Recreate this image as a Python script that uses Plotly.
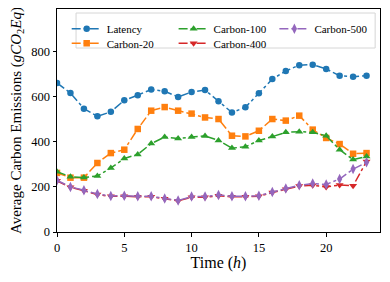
import plotly.graph_objects as go

hours = list(range(24))
latency = [661, 616, 547, 513, 533, 584, 607, 632, 624, 599, 621, 630, 580, 530, 553, 615, 678, 714, 740, 742, 723, 693, 689, 693]
carbon20 = [262, 241, 241, 306, 350, 365, 457, 538, 554, 538, 525, 508, 501, 427, 424, 449, 501, 494, 516, 454, 417, 390, 347, 350]
carbon100 = [267, 245, 242, 248, 284, 326, 344, 392, 421, 415, 421, 426, 406, 372, 378, 406, 423, 442, 445, 442, 427, 365, 321, 335]
carbon400 = [227, 198, 183, 166, 158, 159, 156, 156, 147, 138, 154, 154, 161, 156, 156, 159, 175, 190, 204, 207, 200, 208, 205, 313]
carbon500 = [229, 200, 185, 168, 160, 161, 158, 158, 149, 140, 157, 157, 164, 158, 158, 161, 177, 193, 207, 215, 211, 235, 279, 309]

names = ["Latency", "Carbon-20", "Carbon-100", "Carbon-400", "Carbon-500"]
series = [latency, carbon20, carbon100, carbon400, carbon500]
colors = ["#1f77b4", "#ff7f0e", "#2ca02c", "#d62728", "#9467bd"]
symbols = ["circle", "square", "triangle-up", "triangle-down", "diamond-tall"]
sizes = [6.5, 6.5, 7, 7, 7.5]
legend_ids = ["legend", "legend2", "legend3", "legend4", "legend5"]
# legend cell (column x, row y) for each series, matplotlib ncol=3 column-major layout
leg_x = [0.030, 0.030, 0.361, 0.361, 0.673]
leg_y = [0.977, 0.911, 0.977, 0.911, 0.977]

fig = go.Figure()
for n, s, c, m, sz, lg in zip(names, series, colors, symbols, sizes, legend_ids):
    fig.add_trace(go.Scatter(
        x=hours, y=s, name=n, mode="lines+markers",
        line=dict(color=c, width=1.5, dash="dashdot"),
        marker=dict(symbol=m, size=sz, color=c, line=dict(width=0)),
        legend=lg,
    ))

font = "Liberation Serif"
legends = {}
for lg, lx, ly in zip(legend_ids, leg_x, leg_y):
    legends[lg] = dict(
        orientation="v", yanchor="top", xanchor="left", x=lx, y=ly,
        bgcolor="rgba(0,0,0,0)", borderwidth=0,
        font=dict(family=font, size=11, color="black"), itemwidth=30,
    )

# page body has an 8px default margin, so the figure is sized/offset to compensate
fig.update_layout(
    width=382, height=274,
    margin=dict(l=49, r=10, t=1, b=50, autoexpand=False),
    paper_bgcolor="white", plot_bgcolor="white",
    font=dict(family=font, size=12.5, color="black"),
    showlegend=True,
    shapes=[dict(
        type="rect", xref="paper", yref="paper",
        x0=0.059, x1=0.985, y0=0.825, y1=0.982,
        line=dict(color="#d6d6d6", width=1), fillcolor="rgba(255,255,255,0.8)",
        layer="above",
    )],
    xaxis=dict(
        range=[0, 24], tickvals=[0, 5, 10, 15, 20], ticks="outside", ticklen=3.5,
        tickcolor="black", showline=True, linecolor="black", linewidth=1, mirror=True,
        showgrid=False, zeroline=False, automargin=False,
        title=dict(text="Time (<i>h</i>)", font=dict(size=16), standoff=3),
        tickfont=dict(size=12.5),
    ),
    yaxis=dict(
        range=[0, 989], tickvals=[0, 200, 400, 600, 800], ticks="outside", ticklen=3.5,
        tickcolor="black", showline=True, linecolor="black", linewidth=1, mirror=True,
        showgrid=False, zeroline=False, automargin=False,
        title=dict(text="Average Carbon Emissions (<i>gCO</i><sub>2</sub><i>Eq</i>)", font=dict(size=15), standoff=6),
        tickfont=dict(size=12.5),
    ),
    **legends,
)

fig.write_html("out.html")
